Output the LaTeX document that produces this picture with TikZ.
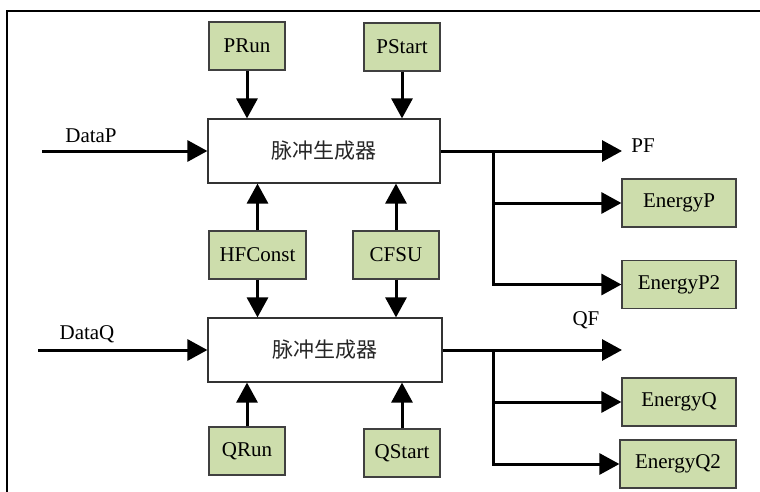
\documentclass[tikz,border=0pt]{standalone}
\usepackage{fontspec}
\setmainfont{Liberation Serif}
\newfontfamily\cjk{Noto Sans CJK SC}
\usetikzlibrary{positioning, arrows.meta}
\definecolor{boxgreen}{RGB}{205,221,172}

\begin{document}
\begin{tikzpicture}[
    x=1pt, y=-1pt,
    font=\fontsize{21}{24}\selectfont,
    ctrl_box/.style={
        draw=black!75,
        line width=1.2pt,
        fill=boxgreen,
        minimum width=76pt,
        minimum height=48pt,
        inner sep=0pt
    },
    gen_box/.style={
        draw=black!80,
        line width=1.2pt,
        fill=white,
        minimum width=232pt,
        minimum height=64pt,
        text=black!85,
        font=\cjk\fontsize{21}{24}\selectfont
    },
    sig/.style={
        line width=3pt,
        -{Triangle[length=20pt,width=21pt]}
    }
]

    \useasboundingbox (0,0) rectangle (760,492);

    % Frame
    \draw[line width=2.5pt] (7,492) -- (7,11) -- (760,11);

    % Pulse generators
    \node[gen_box] (genP) at (324,151) {脉冲生成器};
    \node[gen_box, minimum width=234pt] (genQ) at (325,350) {脉冲生成器};

    % Registers
    \node[ctrl_box] (pRun) at (247,46) {PRun};
    \node[ctrl_box] (pStart) at (402,47) {PStart};
    \node[ctrl_box, minimum width=97pt] (hfConst) at (257.5,255) {HFConst};
    \node[ctrl_box, minimum width=86pt] (cfsu) at (396,255) {CFSU};
    \node[ctrl_box] (qRun) at (247,451) {QRun};
    \node[ctrl_box] (qStart) at (402,453) {QStart};

    % Energy outputs
    \node[ctrl_box, minimum width=114pt] (eP) at (679,203) {EnergyP};
    \node[ctrl_box, minimum width=114pt] (eP2) at (679,284.5) {EnergyP2};
    \node[ctrl_box, minimum width=114pt] (eQ) at (679,402) {EnergyQ};
    \node[ctrl_box, minimum width=116pt] (eQ2) at (678,464) {EnergyQ2};

    % Signal names
    \node (lblDataP) at (91,136) {DataP};
    \node (lblDataQ) at (87,334) {DataQ};
    \node (lblPF) at (643,146) {PF};
    \node (lblQF) at (586,320) {QF};

    \coordinate (inP) at (42,151);
    \coordinate (inQ) at (38,350);
    \coordinate (outP) at (622,151);
    \coordinate (outQ) at (622,350);
    \coordinate (brP) at (493,151);
    \coordinate (brQ) at (493,350);

    % Inputs
    \draw[sig] (inP) -- (genP.west);
    \draw[sig] (inQ) -- (genQ.west);
    \draw[sig] (pRun.south) -- (pRun.south |- genP.north);
    \draw[sig] (pStart.south) -- (pStart.south |- genP.north);
    \draw[sig] (hfConst.north) -- (hfConst.north |- genP.south);
    \draw[sig] (cfsu.north) -- (cfsu.north |- genP.south);
    \draw[sig] (hfConst.south) -- (hfConst.south |- genQ.north);
    \draw[sig] (cfsu.south) -- (cfsu.south |- genQ.north);
    \draw[sig] (qRun.north) -- (qRun.north |- genQ.south);
    \draw[sig] (qStart.north) -- (qStart.north |- genQ.south);

    % Outputs
    \draw[sig] (genP.east) -- (outP);
    \draw[sig] (brP) |- (eP.west);
    \draw[sig] (brP) |- (eP2.west);
    \draw[sig] (genQ.east) -- (outQ);
    \draw[sig] (brQ) |- (eQ.west);
    \draw[sig] (brQ) |- (eQ2.west);

\end{tikzpicture}
\end{document}
